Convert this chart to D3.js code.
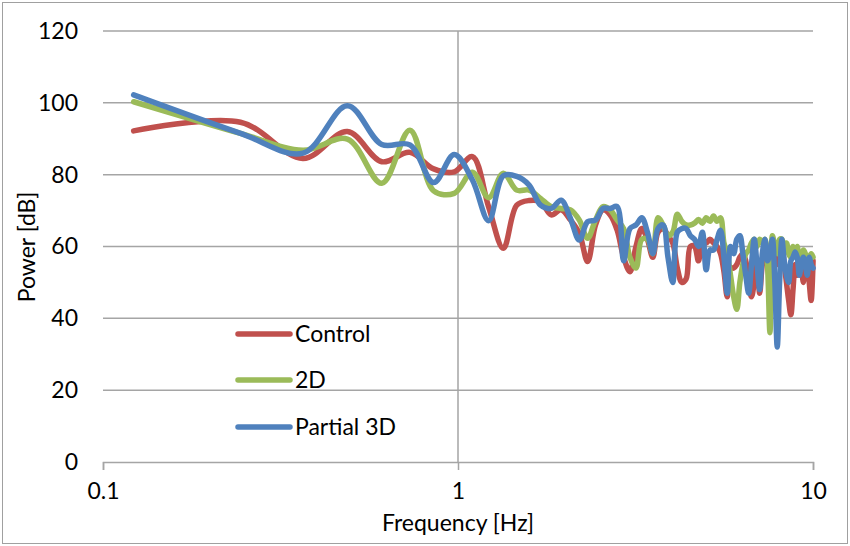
<!DOCTYPE html>
<html>
<head>
<meta charset="utf-8">
<script src="https://cdn.jsdelivr.net/npm/d3@7/dist/d3.min.js"></script>
<style>
  html, body { margin: 0; padding: 0; background: #fff; }
  svg { display: block; font-family: Lato, "Open Sans", sans-serif; }
</style>
</head>
<body>
<svg id="chart" width="850" height="546"></svg>
<script>
// frequency bins [Hz]
const freq = [
  0.122, 0.244, 0.366, 0.488, 0.610, 0.732, 0.854, 0.976, 1.098, 1.220,
  1.342, 1.464, 1.586, 1.708, 1.830, 1.952, 2.074, 2.196, 2.318, 2.440,
  2.562, 2.684, 2.806, 2.928, 3.050, 3.172, 3.294, 3.416, 3.538, 3.660,
  3.782, 3.904, 4.026, 4.148, 4.270, 4.392, 4.514, 4.636, 4.758, 4.880,
  5.002, 5.124, 5.246, 5.368, 5.490, 5.612, 5.734, 5.856, 5.978, 6.100,
  6.222, 6.344, 6.466, 6.588, 6.710, 6.832, 6.954, 7.076, 7.198, 7.320,
  7.442, 7.564, 7.686, 7.808, 7.930, 8.052, 8.174, 8.296, 8.418, 8.540,
  8.662, 8.784, 8.906, 9.028, 9.150, 9.272, 9.394, 9.516, 9.638, 9.760,
  9.882, 10.004
];

// power [dB] per series
const control = [
  92.2, 94.6, 84.5, 92.0, 83.6, 86.2, 81.6, 80.8, 85.0, 71.0,
  59.5, 71.5, 72.8, 72.5, 68.8, 70.2, 67.4, 63.7, 55.8, 66.0,
  70.2, 68.8, 64.6, 57, 53, 60, 65, 62, 57, 64,
  65, 63, 61, 54, 50, 51, 60, 60, 56, 62,
  61, 62, 61, 60, 58, 53, 46, 54, 54, 55,
  57, 58, 56, 50, 46, 50, 56, 47, 55, 58,
  60, 56, 60, 58, 55, 58, 60, 55, 50, 45,
  41, 48, 55, 52, 58, 55, 50, 56, 57, 50,
  45, 56
];
const twoD = [
  100.3, 91.5, 86.8, 89.9, 77.6, 92.4, 75.5, 74.8, 80.7, 73.6,
  80.4, 75.7, 75.7, 73.4, 71.1, 70.6, 70.2, 67.4, 62.3, 67.4,
  71.1, 70.2, 67.4, 65, 57, 54, 62, 62, 58, 68,
  66, 63, 64, 69, 67, 66, 66, 66.5, 67.5, 66.5,
  68, 67, 68.5, 67, 68, 61, 58, 52, 46, 42.5,
  50, 55, 58, 59, 61, 62, 60, 62, 61, 62,
  55, 36, 63, 60, 58, 62, 62, 60, 61, 58,
  57, 60, 58, 60, 56, 57, 59, 58, 55, 57,
  58, 57
];
const partial3D = [
  102.2, 91.5, 86.0, 99.2, 88.4, 88.3, 77.8, 85.6, 78.5, 67.2,
  79.7, 79.5, 77.1, 71.5, 70.6, 72.9, 67.8, 61.8, 66.9, 67.4,
  70.6, 70.6, 71.1, 56, 65, 66, 68, 64, 58, 65,
  66, 57, 50, 64, 65, 65, 63, 62, 60, 64,
  53.5, 59, 59, 62, 64.5, 57, 47, 60, 58, 62,
  63, 58, 52, 47, 55, 62, 55, 48, 58, 62,
  56, 58, 62, 50, 32, 50, 62, 56, 52, 50,
  56, 57, 58.5, 57, 52, 55, 57, 55, 52, 57,
  55, 54
];

const seriesNames = ["Control", "2D", "Partial 3D"];
const seriesColors = ["#C0504D", "#9BBB59", "#4F81BD"];
const xTicks = [0.1, 1, 10];
const yTicks = [0, 20, 40, 60, 80, 100, 120];

const svg = d3.select("#chart");
const W = 850, H = 546;
const plotLeft = 103, plotRight = 813, plotTop = 31, plotBottom = 462;
const grid = "#a5a5a5";
const fontSize = "23px";

svg.append("rect")
    .attr("x", 2.5).attr("y", 2.5)
    .attr("width", W - 5).attr("height", H - 5)
    .attr("fill", "#fff").attr("stroke", "#a0a0a0").attr("stroke-width", 1);

const x = d3.scaleLog().domain([0.1, 10]).range([plotLeft, plotRight]);
const y = d3.scaleLinear().domain([0, 120]).range([plotBottom, plotTop]);

// horizontal grid
svg.append("g")
    .selectAll("line")
    .data(yTicks.filter(d => d > 0))
    .join("line")
    .attr("x1", plotLeft).attr("x2", plotRight)
    .attr("y1", d => y(d)).attr("y2", d => y(d))
    .attr("stroke", grid).attr("stroke-width", 1.5);

// vertical grid at 1 Hz
svg.append("line")
    .attr("x1", x(1)).attr("x2", x(1))
    .attr("y1", plotTop).attr("y2", plotBottom)
    .attr("stroke", grid).attr("stroke-width", 1.5);

// x axis
const xAxis = d3.axisBottom(x)
    .tickValues(xTicks)
    .tickSize(8)
    .tickPadding(13)
    .tickFormat(d3.format("~g"));
const gx = svg.append("g").attr("transform", `translate(0,${plotBottom})`).call(xAxis);
gx.select(".domain").attr("stroke", grid).attr("stroke-width", 1.5);
gx.selectAll(".tick line").attr("stroke", grid).attr("stroke-width", 1.5);
gx.selectAll(".tick text")
    .attr("fill", "#000").style("font-size", fontSize)
    .style("font-family", "Lato, 'Open Sans', sans-serif");

// y axis labels only
const yAxis = d3.axisLeft(y).tickValues(yTicks).tickSize(0).tickPadding(25);
const gy = svg.append("g").attr("transform", `translate(${plotLeft},0)`).call(yAxis);
gy.select(".domain").remove();
gy.selectAll(".tick text")
    .attr("fill", "#000").style("font-size", fontSize)
    .style("font-family", "Lato, 'Open Sans', sans-serif");

// axis titles
svg.append("text")
    .attr("x", x(1)).attr("y", 531)
    .attr("text-anchor", "middle")
    .style("font-size", fontSize)
    .text("Frequency [Hz]");

svg.append("text")
    .attr("transform", "translate(35,247) rotate(-90)")
    .attr("text-anchor", "middle")
    .style("font-size", fontSize)
    .text("Power [dB]");

// series
const allSeries = [control, twoD, partial3D];
const line = d3.line()
    .x(d => x(d[0]))
    .y(d => y(d[1]))
    .curve(d3.curveCatmullRom.alpha(0.5));

svg.append("g")
    .selectAll("path")
    .data(allSeries)
    .join("path")
    .attr("d", vals => line(freq.map((f, i) => [f, vals[i]])))
    .attr("fill", "none")
    .attr("stroke", (d, i) => seriesColors[i])
    .attr("stroke-width", 5.5)
    .attr("stroke-linejoin", "round")
    .attr("stroke-linecap", "round");

// legend
const legendY = [334, 380, 427];
const lg = svg.append("g")
    .selectAll("g")
    .data(seriesNames)
    .join("g")
    .attr("transform", (d, i) => `translate(238,${legendY[i]})`);
lg.append("line")
    .attr("x1", 0).attr("x2", 52)
    .attr("stroke", (d, i) => seriesColors[i])
    .attr("stroke-width", 5.5)
    .attr("stroke-linecap", "round");
lg.append("text")
    .attr("x", 57).attr("dy", "0.35em")
    .style("font-size", fontSize)
    .text(d => d);
</script>
</body>
</html>
